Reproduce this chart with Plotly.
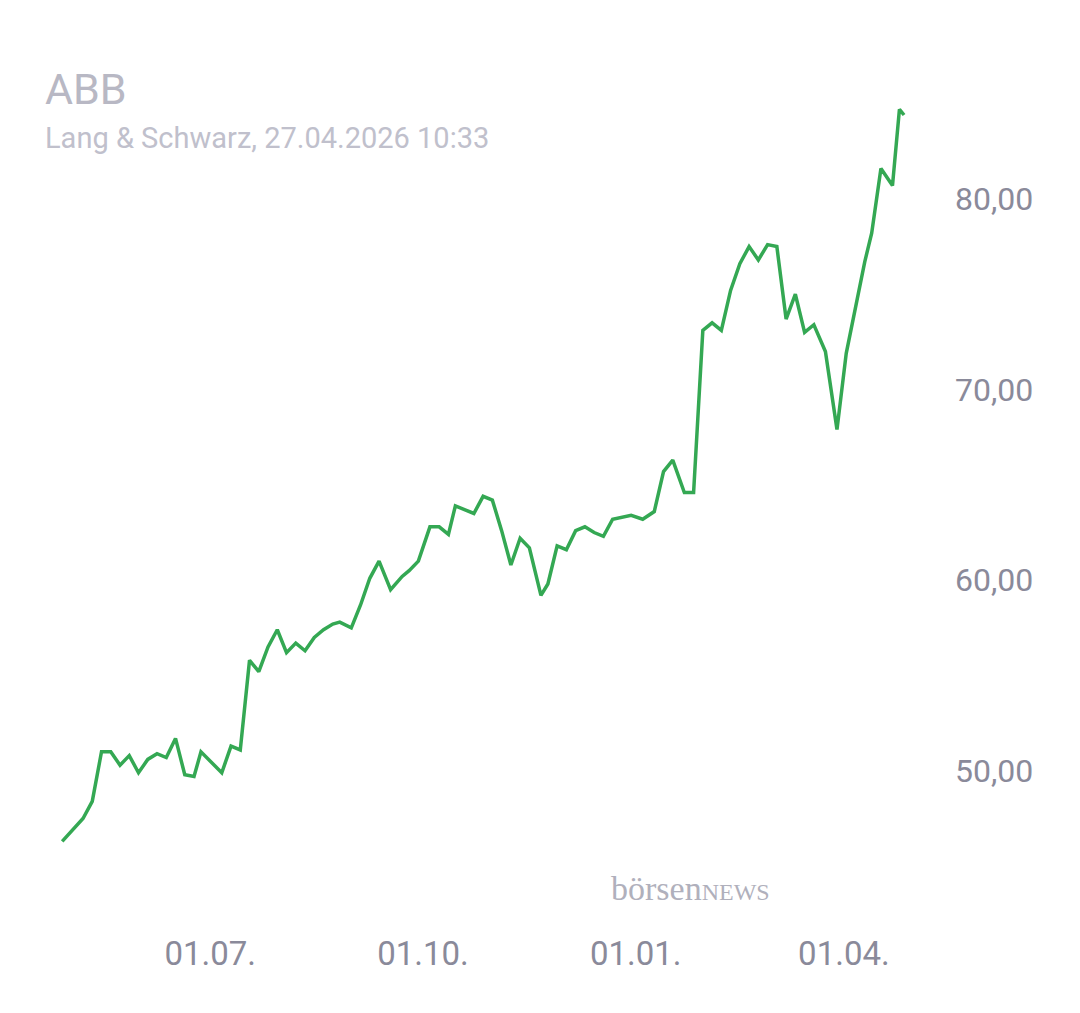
import plotly.graph_objects as go

dates = ["2025-04-28", "2025-05-07", "2025-05-11", "2025-05-15", "2025-05-19", "2025-05-23",
         "2025-05-27", "2025-05-31", "2025-06-04", "2025-06-08", "2025-06-12", "2025-06-16",
         "2025-06-20", "2025-06-24", "2025-06-27", "2025-07-01", "2025-07-06", "2025-07-10",
         "2025-07-14", "2025-07-18", "2025-07-22", "2025-07-26", "2025-07-30", "2025-08-03",
         "2025-08-07", "2025-08-11", "2025-08-15", "2025-08-19", "2025-08-23", "2025-08-26",
         "2025-08-31", "2025-09-04", "2025-09-08", "2025-09-12", "2025-09-17", "2025-09-22",
         "2025-09-25", "2025-09-29", "2025-10-04", "2025-10-08", "2025-10-12", "2025-10-15",
         "2025-10-19", "2025-10-23", "2025-10-27", "2025-10-31", "2025-11-04", "2025-11-08",
         "2025-11-12", "2025-11-16", "2025-11-21", "2025-11-24", "2025-11-28", "2025-12-02",
         "2025-12-06", "2025-12-10", "2025-12-14", "2025-12-18", "2025-12-22", "2025-12-30",
         "2026-01-04", "2026-01-09", "2026-01-13", "2026-01-17", "2026-01-22", "2026-01-26",
         "2026-01-30", "2026-02-03", "2026-02-07", "2026-02-11", "2026-02-15", "2026-02-19",
         "2026-02-23", "2026-02-27", "2026-03-03", "2026-03-07", "2026-03-11", "2026-03-15",
         "2026-03-19", "2026-03-24", "2026-03-29", "2026-04-02", "2026-04-10", "2026-04-13",
         "2026-04-17", "2026-04-22", "2026-04-25", "2026-04-27"]

prices = [46.3, 47.5, 48.4, 51.0, 51.0, 50.3, 50.8, 49.9, 50.6, 50.9, 50.7, 51.7,
          49.8, 49.7, 51.0, 50.5, 49.9, 51.3, 51.1, 55.8, 55.2, 56.5, 57.4, 56.2,
          56.7, 56.3, 57.0, 57.4, 57.7, 57.8, 57.5, 58.7, 60.1, 61.0, 59.5, 60.2,
          60.5, 61.0, 62.8, 62.8, 62.4, 63.9, 63.7, 63.5, 64.4, 64.2, 62.6, 60.8,
          62.2, 61.7, 59.2, 59.8, 61.8, 61.6, 62.6, 62.8, 62.5, 62.3, 63.2, 63.4,
          63.2, 63.6, 65.7, 66.3, 64.6, 64.6, 73.1, 73.5, 73.1, 75.2, 76.6, 77.5,
          76.8, 77.6, 77.5, 73.7, 75.0, 73.0, 73.4, 72.0, 67.9, 71.9, 76.7, 78.2,
          81.6, 80.7, 84.7, 84.4]

x_tickvals = ["2025-07-01", "2025-10-01", "2026-01-01", "2026-04-01"]
x_ticktext = ["01.07.", "01.10.", "01.01.", "01.04."]
y_tickvals = [50, 60, 70, 80]
y_ticktext = ["50,00", "60,00", "70,00", "80,00"]

L, R, T, B = 38, 140, 83, 90

fig = go.Figure(go.Scatter(x=dates, y=prices, mode="lines",
                           line=dict(color="#34a853", width=3.5)))

fig.update_layout(
    width=1080, height=1013,
    paper_bgcolor="white", plot_bgcolor="white",
    margin=dict(l=L, r=R, t=T, b=B),
    showlegend=False,
    font=dict(family="Roboto", color="#8a8a9a"),
    xaxis=dict(range=["2025-04-21", "2026-05-16"], tickvals=x_tickvals, ticktext=x_ticktext,
               showgrid=False, zeroline=False, showline=False, tickfont=dict(size=33)),
    yaxis=dict(range=[41.6, 85.66], side="right", tickvals=y_tickvals, ticktext=y_ticktext,
               showgrid=False, zeroline=False, showline=False, tickfont=dict(size=32),
               ticklabelstandoff=6),
)

# place the header texts in pixel terms
pw, ph = 1080 - L - R, 1013 - T - B
def px(x): return (x - L) / pw
def py(y): return (1013 - B - y) / ph

fig.add_annotation(text="ABB", x=px(35), y=py(81), xref="paper", yref="paper", showarrow=False,
                   xanchor="left", yanchor="middle", font=dict(size=43, color="#b8b8c4"))
fig.add_annotation(text="Lang & Schwarz, 27.04.2026 10:33", x=px(35), y=py(130),
                   xref="paper", yref="paper", showarrow=False, xanchor="left", yanchor="middle",
                   font=dict(size=29, color="#c0c0cc"))
fig.add_annotation(text="börsen<span style='font-size:24px'>NEWS</span>", x=px(682), y=py(880),
                   xref="paper", yref="paper", showarrow=False, xanchor="center", yanchor="middle",
                   font=dict(family="Liberation Serif", size=34, color="#b0b0bc"))

fig.write_html("out.html")
